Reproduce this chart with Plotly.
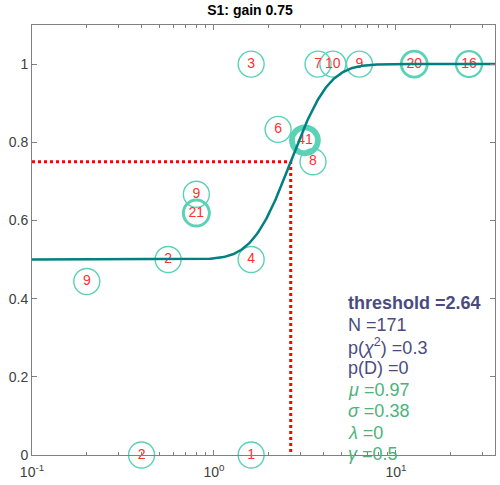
import numpy as np
import plotly.graph_objects as go
from math import erf, sqrt

# ---- data ----
stim_levels = [0.2, 0.4, 0.56, 0.8, 0.8, 1.6, 1.6, 1.6, 2.25, 3.16, 3.5, 3.73, 4.5, 6.3, 12.6, 25.2]
prop_correct = [0.444, 0.0, 0.5, 0.667, 0.619, 1.0, 0.5, 0.0, 0.833, 0.805, 0.75, 1.0, 1.0, 1.0, 1.0, 1.0]
n_trials = [9, 2, 2, 9, 21, 3, 4, 1, 6, 41, 8, 7, 10, 9, 20, 16]

mu = 0.97
sigma = 0.38
lam = 0.0
gam = 0.5
threshold = 2.64
criterion = 0.75
title = "S1: gain 0.75"
stats_lines = [
    ("<b>threshold =2.64</b>", "#4b4b7d"),
    ("N =171", "#4b4b7d"),
    ("p(<i>χ</i><sup>2</sup>) =0.3", "#4b4b7d"),
    ("p(D) =0", "#4b4b7d"),
    ("<i>μ</i> =0.97", "#4db37a"),
    ("<i>σ</i> =0.38", "#4db37a"),
    ("<i>λ</i> =0", "#4db37a"),
    ("<i>γ</i> =0.5", "#4db37a"),
]

x_range = [0.1, 35]
y_max = 1.1
xtick_vals = [0.1, 1, 10]
xtick_text = ["10<sup>-1</sup>", "10<sup>0</sup>", "10<sup>1</sup>"]
ytick_vals = [0, 0.2, 0.4, 0.6, 0.8, 1]
ytick_text = ["0", "0.2", "0.4", "0.6", "0.8", "1"]

# fitted curve (log-normal cumulative with guess/lapse rates)
xs = np.logspace(np.log10(x_range[0]), np.log10(x_range[1]), 400)
phi = np.array([0.5 * (1 + erf((np.log(v) - mu) / (sigma * sqrt(2)))) for v in xs])
ys = gam + (1 - gam - lam) * phi

fig = go.Figure()

# threshold lines
fig.add_trace(go.Scatter(x=[x_range[0], threshold, threshold], y=[criterion, criterion, 0],
                         mode="lines", line=dict(color="#ff0000", width=3, dash="dot"),
                         hoverinfo="skip", showlegend=False))

# data circles
lw = [max(1.4, n * 0.14) for n in n_trials]
fig.add_trace(go.Scatter(x=stim_levels, y=prop_correct, mode="markers+text",
                         marker=dict(size=26, color="rgba(0,0,0,0)",
                                     line=dict(color="#5ad2b6", width=lw)),
                         text=[str(n) for n in n_trials], textposition="middle center",
                         textfont=dict(color="#ff3030", size=14, family="Liberation Sans, Arial"),
                         cliponaxis=False, showlegend=False))

# curve
fig.add_trace(go.Scatter(x=xs, y=ys, mode="lines", line=dict(color="#008080", width=2.5),
                         showlegend=False))

annotations = []
y0 = 0.388
for i, (txt, col) in enumerate(stats_lines):
    annotations.append(dict(x=np.log10(5.3), y=(y0 - i * 0.0552) / y_max, xref="x", yref="paper",
                            text=txt, showarrow=False, xanchor="left", yanchor="middle",
                            font=dict(size=18, color=col, family="Liberation Sans, Arial")))

fig.update_layout(
    width=500, height=485,
    margin=dict(l=32, r=5, t=25, b=30),
    plot_bgcolor="white", paper_bgcolor="white",
    title=dict(text="<b>" + title + "</b>", x=0.5, xanchor="center", y=0.99, yanchor="top",
               font=dict(size=14, color="#000000", family="Liberation Sans, Arial")),
    font=dict(family="Liberation Sans, Arial", size=14, color="#404040"),
    annotations=annotations,
    xaxis=dict(type="log", range=[np.log10(x_range[0]), np.log10(x_range[1])],
               tickvals=xtick_vals, ticktext=xtick_text, ticks="inside", ticklen=5,
               ticklabelstandoff=4,
               showline=True, linecolor="#808080", linewidth=1, mirror="allticks",
               showgrid=False, zeroline=False, tickcolor="#808080", automargin=False,
               minor=dict(tickvals=[v * m for v in [0.1, 1, 10] for m in range(2, 10) if v * m < 35],
                          ticks="inside", ticklen=3, tickcolor="#808080", showgrid=False)),
    yaxis=dict(range=[0, y_max], tickvals=ytick_vals, ticktext=ytick_text, ticks="inside",
               ticklen=5, showline=True, linecolor="#808080", linewidth=1, mirror="allticks",
               showgrid=False, zeroline=False, tickcolor="#808080", automargin=False),
)

fig.write_html("out.html", config={"displayModeBar": False},
               post_script="document.body.style.margin='0';document.body.style.overflow='hidden';")
